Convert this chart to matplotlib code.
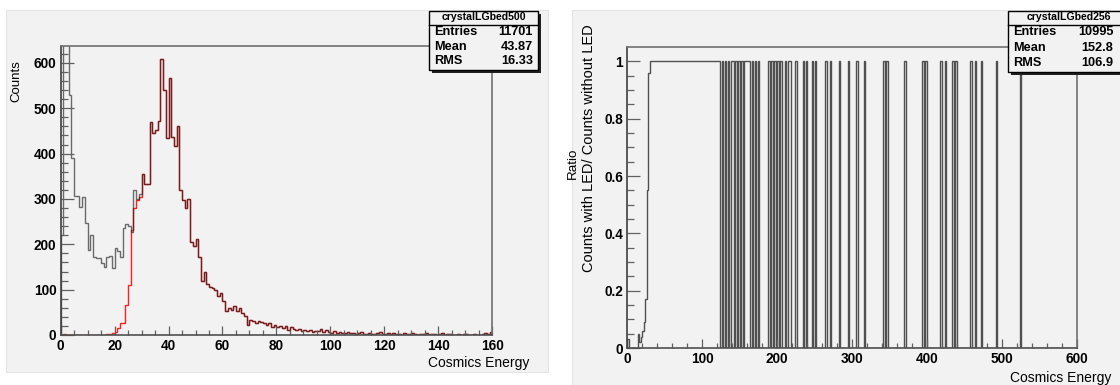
import numpy as np
import matplotlib
matplotlib.use('Agg')
import matplotlib.pyplot as plt
from matplotlib.patches import Rectangle
from matplotlib.lines import Line2D

plt.rcParams['font.family'] = ['Liberation Sans', 'DejaVu Sans']

# ---- left panel: counts per 1-unit bin, 0..160 ----
all_counts = [221, 1450, 880, 529, 390, 306, 306, 283, 304, 248,
              188, 220, 172, 170, 170, 158, 151, 172, 175, 147,
              191, 185, 172, 236, 245, 240, 228, 319, 300, 311,
              356, 333, 333, 470, 445, 453, 473, 609, 541, 434,
              567, 437, 416, 462, 319, 298, 280, 300, 206, 197,
              211, 171, 118, 138, 113, 105, 103, 100, 85, 92,
              74, 53, 59, 55, 63, 52, 60, 48, 42, 22,
              32, 30, 27, 30, 28, 27, 22, 26, 18, 22,
              17, 20, 15, 19, 12, 17, 14, 11, 13, 8,
              10, 9, 12, 7, 9, 8, 13, 6, 10, 7,
              5, 8, 5, 6, 4, 5, 7, 4, 5, 3,
              4, 6, 3, 2, 5, 3, 2, 4, 6, 3,
              2, 4, 3, 5, 2, 3, 1, 4, 2, 3,
              5, 2, 1, 3, 2, 4, 1, 2, 3, 1,
              2, 5, 1, 2, 3, 1, 0, 2, 1, 3,
              2, 0, 1, 2, 1, 0, 2, 5, 3, 6]
# with LED: only differs below ~30
led_low = [0, 2, 1, 0, 0, 0, 0, 0, 0, 0,
           0, 0, 0, 0, 0, 0, 0, 2, 3, 5,
           7, 15, 26, 27, 66, 110, 232, 280, 298, 305]
led_counts = led_low + all_counts[30:]

# ---- right panel: ratio per 2-unit bin, 0..600 ----
ramp = [0.03, 0, 0, 0, 0, 0, 0, 0.05, 0.02, 0.04,
        0.06, 0.09, 0.17, 0.55, 0.96]
# energy ranges where ratio == 1
one_runs = [(30, 124), (126, 128), (130, 132), (134, 136), (138, 142),
            (144, 146), (148, 150), (152, 154), (156, 164), (166, 168),
            (170, 172), (174, 176), (188, 190), (192, 194), (196, 198),
            (200, 202), (204, 206), (210, 212), (214, 218), (224, 226),
            (234, 236), (238, 240), (246, 248), (250, 252), (264, 266),
            (270, 272), (282, 284), (294, 296), (306, 308), (316, 318),
            (342, 344), (346, 348), (370, 372), (394, 396), (398, 400),
            (418, 420), (424, 426), (434, 436), (438, 440), (458, 460),
            (464, 466), (472, 474), (492, 494)]
big_spike = (524, 526, 2.0)

W, H = 1120, 385
fig = plt.figure(figsize=(11.2, 3.85), dpi=100)


def frac(x0, y0, x1, y1):
    # pixel box (origin top-left) -> figure fraction [l, b, w, h]
    return [x0 / W, 1 - y1 / H, (x1 - x0) / W, (y1 - y0) / H]


bg = '#f2f2f2'
for box in [(6, 10, 548, 372), (572, 10, 1125, 392)]:
    l, b, w, h = frac(*box)
    fig.add_artist(Rectangle((l, b), w, h, transform=fig.transFigure,
                             facecolor=bg, edgecolor='#e4e4e4', lw=0.8, zorder=-5))


def style_axes(ax, ymaj, ymin, xmaj, xmin):
    ax.set_facecolor('none')
    for s in ax.spines.values():
        s.set_color('#707070')
        s.set_linewidth(1.2)
    ax.spines['left'].set_color('#404040')
    ax.spines['bottom'].set_color('#505050')
    ax.tick_params(axis='both', which='both', direction='in', colors='#606060',
                   labelcolor='black', top=False, right=False, width=0.9)
    ax.tick_params(axis='y', which='major', length=ymaj, pad=3)
    ax.tick_params(axis='y', which='minor', length=ymin)
    ax.tick_params(axis='x', which='major', length=xmaj, pad=3)
    ax.tick_params(axis='x', which='minor', length=xmin)


# ---- left plot ----
ax1 = fig.add_axes(frac(60.6, 45.7, 492.3, 335))
edges1 = np.arange(0, 161, 1)
ax1.stairs(led_counts, edges1, color='#ff2020', lw=1.0)
ax1.stairs(all_counts, edges1, color='#222222', alpha=0.65, lw=1.0)
ax1.set_xlim(0, 160)
ax1.set_ylim(0, 638)
ax1.set_xticks(np.arange(0, 161, 20), [str(v) for v in range(0, 161, 20)],
               fontweight='bold', fontsize=9.8)
ax1.set_xticks(np.arange(0, 161, 5), minor=True)
ax1.set_yticks(np.arange(0, 601, 100), [str(v) for v in range(0, 601, 100)],
               fontweight='bold', fontsize=9.8)
ax1.set_yticks(np.arange(0, 638, 20), minor=True)
style_axes(ax1, 9.4, 4.7, 6.5, 3.6)

# ---- right plot ----
ax2 = fig.add_axes(frac(627.3, 47, 1076.7, 348))
edges2 = np.arange(0, 601, 2)
ratio = np.zeros(len(edges2) - 1)
ratio[:len(ramp)] = ramp
for a, b in one_runs:
    ratio[a // 2:b // 2] = 1.0
ratio[big_spike[0] // 2:big_spike[1] // 2] = big_spike[2]
ax2.stairs(ratio, edges2, color='#505050', lw=1.0)
ax2.set_xlim(0, 600)
ax2.set_ylim(0, 1.05)
ax2.set_xticks(np.arange(0, 601, 100), [str(v) for v in range(0, 601, 100)],
               fontweight='bold', fontsize=9.8)
ax2.set_xticks(np.arange(0, 601, 20), minor=True)
ax2.set_yticks([0, 0.2, 0.4, 0.6, 0.8, 1.0], ['0', '0.2', '0.4', '0.6', '0.8', '1'],
               fontweight='bold', fontsize=9.8)
ax2.set_yticks(np.arange(0, 1.05, 0.05), minor=True)
style_axes(ax2, 9.7, 5.0, 6.5, 3.6)

# ---- axis titles ----
fig.text(16 / W, 1 - 60 / H, 'Counts', rotation=90, ha='center', va='top', fontsize=9.5)
fig.text(529 / W, 1 - 363 / H, 'Cosmics Energy', ha='right', va='center', fontsize=10)
fig.text(1111 / W, 1 - 378 / H, 'Cosmics Energy', ha='right', va='center', fontsize=10)
fig.text(573 / W, 1 - 163 / H, 'Ratio', rotation=90, ha='center', va='center', fontsize=9.6)
fig.text(589 / W, 1 - 148 / H, 'Counts with LED/ Counts without LED', rotation=90,
         ha='center', va='center', fontsize=10.5)


# ---- stats boxes ----
def stats_box(x0, x1, y0, y1, ysep, name, rows, ytitle, yrows, xl, xr):
    l, b, w, h = frac(x0 + 3, y0 + 3, x1 + 3, y1 + 3)
    fig.add_artist(Rectangle((l, b), w, h, transform=fig.transFigure,
                             facecolor='#202020', edgecolor='none', zorder=5))
    l, b, w, h = frac(x0, y0, x1, y1)
    fig.add_artist(Rectangle((l, b), w, h, transform=fig.transFigure,
                             facecolor=bg, edgecolor='black', lw=1.0, zorder=6))
    fig.add_artist(Line2D([x0 / W, x1 / W], [1 - ysep / H, 1 - ysep / H],
                          transform=fig.transFigure, color='black', lw=1.0, zorder=7))
    fig.text((x0 + x1) / 2 / W, 1 - ytitle / H, name, ha='center', va='center',
             fontsize=7.6, fontweight='bold', zorder=8)
    for (label, val), yy in zip(rows, yrows):
        fig.text(xl / W, 1 - yy / H, label, ha='left', va='center',
                 fontsize=9.2, fontweight='bold', zorder=8)
        fig.text(xr / W, 1 - yy / H, val, ha='right', va='center',
                 fontsize=9.2, fontweight='bold', zorder=8)


stats_box(429, 538, 10.5, 70, 24.5, 'crystalLGbed500',
          [('Entries', '11701'), ('Mean', '43.87'), ('RMS', '16.33')],
          17.3, [31.7, 46.5, 61.3], 434.5, 533)
stats_box(1008, 1130, 10.5, 72, 25, 'crystalLGbed256',
          [('Entries', '10995'), ('Mean', '152.8'), ('RMS', '106.9')],
          17.3, [32.3, 47.7, 62.7], 1013.5, 1113.5)

fig.savefig('out.png', dpi=100)
